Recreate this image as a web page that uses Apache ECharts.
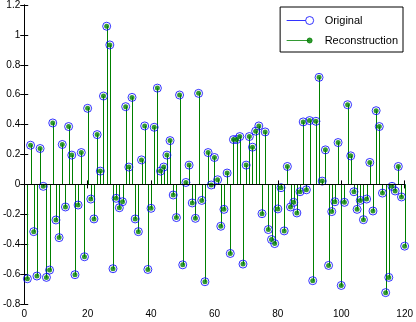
<!DOCTYPE html>
<html>
<head>
<meta charset="utf-8">
<script src="https://cdn.jsdelivr.net/npm/echarts@6/dist/echarts.min.js"></script>
<style>
html, body { margin: 0; padding: 0; background: #fff; }
#main { width: 416px; height: 322px; }
</style>
</head>
<body>
<div id="main"></div>
<script>
// values, samples 1..120
const original = [
    -0.631, 0.262, -0.316, -0.613, 0.24, -0.013, -0.622, -0.573, 0.411, -0.238,
    -0.356, 0.267, -0.151, 0.387, 0.196, -0.604, -0.138, 0.213, -0.484, 0.509,
    -0.098, -0.231, 0.333, 0.089, 0.591, 1.058, 0.933, -0.564, -0.093, -0.156,
    -0.116, 0.52, 0.116, 0.582, -0.231, -0.316, 0.164, 0.391, -0.569, -0.16,
    0.382, 0.644, 0.089, 0.116, 0.196, 0.293, -0.071, -0.222, 0.598, -0.538,
    0.013, 0.129, -0.124, -0.227, 0.609, -0.107, -0.651, 0.213, -0.004, 0.18,
    0.031, -0.28, -0.167, 0.076, -0.462, 0.30, 0.30, 0.32, -0.533, 0.129,
    0.32, 0.249, 0.356, 0.391, -0.196, 0.351, -0.302, -0.369, -0.396, -0.164,
    -0.022, -0.311, 0.12, -0.151, -0.12, -0.191, -0.049, 0.418, -0.036, 0.427,
    -0.644, 0.422, 0.716, 0.022, 0.231, -0.542, -0.182, -0.116, 0.28, -0.676,
    -0.12, 0.533, 0.191, -0.049, -0.167, -0.107, -0.236, -0.098, 0.147, -0.178,
    0.493, 0.387, -0.058, -0.724, -0.622, -0.013, -0.044, 0.12, -0.084, -0.413
];
const reconstruction = [
    -0.631, 0.262, -0.316, -0.613, 0.24, -0.013, -0.622, -0.573, 0.411, -0.238,
    -0.356, 0.267, -0.151, 0.387, 0.196, -0.604, -0.138, 0.213, -0.484, 0.509,
    -0.098, -0.231, 0.333, 0.089, 0.591, 1.058, 0.933, -0.564, -0.093, -0.156,
    -0.116, 0.52, 0.116, 0.582, -0.231, -0.316, 0.164, 0.391, -0.569, -0.16,
    0.382, 0.644, 0.089, 0.116, 0.196, 0.293, -0.071, -0.222, 0.598, -0.538,
    0.013, 0.129, -0.124, -0.227, 0.609, -0.107, -0.651, 0.213, -0.004, 0.18,
    0.031, -0.28, -0.167, 0.076, -0.462, 0.30, 0.30, 0.32, -0.533, 0.129,
    0.32, 0.249, 0.356, 0.391, -0.196, 0.351, -0.302, -0.369, -0.396, -0.164,
    -0.022, -0.311, 0.12, -0.151, -0.12, -0.191, -0.049, 0.418, -0.036, 0.427,
    -0.644, 0.422, 0.716, 0.022, 0.231, -0.542, -0.182, -0.116, 0.28, -0.676,
    -0.12, 0.533, 0.191, -0.049, -0.167, -0.107, -0.236, -0.098, 0.147, -0.178,
    0.493, 0.387, -0.058, -0.724, -0.622, -0.013, -0.044, 0.12, -0.084, -0.413
];
const seriesNames = ['Original', 'Reconstruction'];
const xRange = [0, 120, 20];
const yRange = [-0.8, 1.2, 0.2];

const BLUE = '#0000ff';
const GREEN = '#008000';
const FONT = '"Liberation Sans", Arial, sans-serif';

function toPoints(values) {
    return values.map((v, i) => [i + 1, v]);
}

function stemSeries(values, color) {
    return {
        type: 'custom',
        silent: true,
        data: toPoints(values),
        renderItem: function (params, api) {
            const a = api.coord([api.value(0), 0]);
            const b = api.coord([api.value(0), api.value(1)]);
            const x = Math.round(a[0]) + 0.5;
            return {
                type: 'line',
                shape: { x1: x, y1: a[1], x2: x, y2: b[1] },
                style: { stroke: color, lineWidth: 1 }
            };
        }
    };
}

function xAxisOf(pos) {
    return {
        type: 'value', position: pos,
        min: xRange[0], max: xRange[1], interval: xRange[2],
        axisLine: { lineStyle: { color: '#000', width: 1 } },
        axisTick: { inside: true, length: 4, lineStyle: { color: '#000' } },
        axisLabel: { show: pos === 'bottom', color: '#000', fontSize: 10, fontFamily: FONT, margin: 5 },
        splitLine: { show: false }
    };
}

function yAxisOf(pos) {
    return {
        type: 'value', position: pos,
        min: yRange[0], max: yRange[1], interval: yRange[2],
        axisLine: { show: true, lineStyle: { color: '#000', width: 1 } },
        axisTick: { show: true, inside: true, length: 4, lineStyle: { color: '#000' } },
        axisLabel: {
            show: pos === 'left', color: '#000', fontSize: 10, fontFamily: FONT, margin: 4,
            formatter: v => String(Math.round(v * 10) / 10)
        },
        splitLine: { show: false }
    };
}

const chart = echarts.init(document.getElementById('main'), null, { renderer: 'canvas' });
chart.setOption({
    animation: false,
    backgroundColor: '#fff',
    grid: { left: 23, right: 9, top: 4, bottom: 18 },
    xAxis: [xAxisOf('bottom'), xAxisOf('top')],
    yAxis: [yAxisOf('left'), yAxisOf('right')],
    legend: {
        orient: 'vertical',
        right: 13, top: 7,
        backgroundColor: '#fff',
        borderColor: '#000', borderWidth: 1, borderRadius: 0,
        padding: [8, 5, 6, 6],
        itemGap: 9, itemWidth: 27, itemHeight: 8,
        textStyle: { fontSize: 11, color: '#000', fontFamily: FONT, padding: [0, 0, 0, 6] },
        data: [
            {
                name: seriesNames[0],
                icon: 'path://M0,5L19,5M19,5A4,4 0 1,1 27,5A4,4 0 1,1 19,5',
                itemStyle: { color: 'rgba(0,0,0,0)', borderColor: BLUE, borderWidth: 1 }
            },
            {
                name: seriesNames[1],
                icon: 'path://M0,1M0,9M0,5L23,5M20.5,5A2.5,2.5 0 1,1 25.5,5A2.5,2.5 0 1,1 20.5,5M27,5',
                itemStyle: { color: GREEN, borderColor: GREEN, borderWidth: 1 }
            }
        ]
    },
    series: [
        stemSeries(original, BLUE),
        {
            name: seriesNames[0],
            type: 'scatter',
            data: toPoints(original),
            symbol: 'circle',
            symbolSize: 8,
            itemStyle: { color: 'rgba(0,0,0,0)', borderColor: BLUE, borderWidth: 1 },
            markLine: {
                silent: true, symbol: 'none', label: { show: false },
                lineStyle: { color: '#000', width: 1, type: 'solid' },
                data: [{ yAxis: 0 }]
            }
        },
        stemSeries(reconstruction, GREEN),
        {
            name: seriesNames[1],
            type: 'scatter',
            data: toPoints(reconstruction),
            symbol: 'circle',
            symbolSize: 5,
            itemStyle: { color: GREEN, borderWidth: 0 }
        }
    ]
});
</script>
</body>
</html>
